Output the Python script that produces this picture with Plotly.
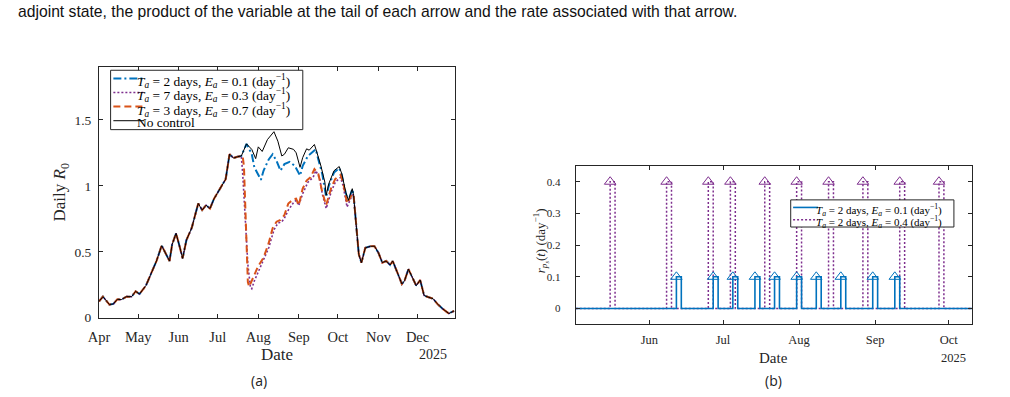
import plotly.graph_objects as go
import pandas as pd

# ---------------- Panel (a): daily R0 ----------------
pre_dates = ['2025-04-01','2025-04-04','2025-04-09','2025-04-12','2025-04-15','2025-04-18','2025-04-22',
             '2025-04-26','2025-04-29','2025-05-02','2025-05-07','2025-05-11','2025-05-15','2025-05-19',
             '2025-05-22','2025-05-25','2025-05-27','2025-05-30','2025-06-02','2025-06-04','2025-06-07',
             '2025-06-11','2025-06-16','2025-06-19','2025-06-22','2025-06-25','2025-06-28','2025-07-03',
             '2025-07-07','2025-07-10','2025-07-13','2025-07-16','2025-07-19']
pre_r0 = [0.124,0.16,0.10,0.105,0.14,0.137,0.16,0.16,0.20,0.18,0.245,0.34,0.43,0.547,0.49,0.43,0.555,
          0.64,0.53,0.45,0.59,0.68,0.866,0.816,0.853,0.828,0.90,0.98,1.05,1.24,1.21,1.22,1.226]

black_mid_dates = ['2025-07-23','2025-07-27','2025-07-30','2025-08-01','2025-08-04','2025-08-08','2025-08-13',
                   '2025-08-16','2025-08-19','2025-08-21','2025-08-24','2025-08-28','2025-08-30','2025-09-02',
                   '2025-09-04','2025-09-07','2025-09-09','2025-09-13','2025-09-15','2025-09-18','2025-09-21',
                   '2025-09-22','2025-09-24','2025-09-28','2025-10-02','2025-10-04','2025-10-07','2025-10-09',
                   '2025-10-12']
black_mid = [1.318,1.276,1.206,1.295,1.26,1.35,1.41,1.338,1.226,1.239,1.288,1.276,1.25,1.14,1.213,1.28,1.27,
             1.313,1.25,1.15,1.027,0.928,1.015,1.114,1.146,1.09,0.952,0.89,0.978]

blue_mid_dates = ['2025-07-23','2025-07-27','2025-07-29','2025-08-03','2025-08-05','2025-08-09','2025-08-12',
                  '2025-08-15','2025-08-18','2025-08-21','2025-08-25','2025-08-29','2025-09-02','2025-09-04',
                  '2025-09-08','2025-09-11','2025-09-14','2025-09-16','2025-09-19','2025-09-22','2025-09-24',
                  '2025-09-28','2025-10-02','2025-10-04','2025-10-07','2025-10-09','2025-10-12']
blue_mid = [1.318,1.24,1.14,1.045,1.114,1.20,1.239,1.189,1.114,1.164,1.181,1.151,1.077,1.151,1.226,1.25,1.276,
            1.2,1.09,0.915,1.0,1.10,1.135,1.08,0.945,0.885,0.975]

purple_mid_dates = ['2025-07-20','2025-07-22','2025-07-24','2025-07-26','2025-07-27','2025-07-29','2025-08-02',
                    '2025-08-05','2025-08-09','2025-08-13','2025-08-16','2025-08-19','2025-08-21','2025-08-24',
                    '2025-08-28','2025-08-30','2025-09-01','2025-09-04','2025-09-08','2025-09-12','2025-09-14',
                    '2025-09-17','2025-09-19','2025-09-22','2025-09-26','2025-09-29','2025-10-03','2025-10-05',
                    '2025-10-08','2025-10-12']
purple_mid = [1.10,0.78,0.405,0.23,0.22,0.28,0.368,0.43,0.53,0.666,0.716,0.728,0.754,0.816,0.873,0.89,0.85,
              0.94,1.027,1.064,1.114,1.06,0.94,0.828,0.96,1.027,1.064,1.0,0.84,0.93]

orange_mid_dates = ['2025-07-20','2025-07-21','2025-07-23','2025-07-24','2025-07-25','2025-07-28','2025-08-01',
                    '2025-08-05','2025-08-09','2025-08-12','2025-08-15','2025-08-18','2025-08-21','2025-08-24',
                    '2025-08-28','2025-08-30','2025-09-01','2025-09-04','2025-09-07','2025-09-10','2025-09-13',
                    '2025-09-16','2025-09-19','2025-09-22','2025-09-26','2025-09-29','2025-10-03','2025-10-05',
                    '2025-10-08','2025-10-12']
orange_mid = [1.226,1.15,0.45,0.27,0.235,0.306,0.393,0.455,0.567,0.679,0.728,0.741,0.778,0.866,0.898,0.903,
              0.853,0.978,1.04,1.064,1.127,1.09,0.952,0.853,0.99,1.052,1.082,1.027,0.866,0.94]

post_dates = ['2025-10-13','2025-10-15','2025-10-17','2025-10-19','2025-10-22','2025-10-26','2025-10-29',
              '2025-11-01','2025-11-04','2025-11-07','2025-11-10','2025-11-12','2025-11-15','2025-11-19',
              '2025-11-21','2025-11-24','2025-11-27','2025-11-30','2025-12-03','2025-12-06','2025-12-09',
              '2025-12-13','2025-12-16','2025-12-20','2025-12-25','2025-12-29']
post_r0 = [0.928,0.704,0.48,0.418,0.53,0.542,0.542,0.493,0.418,0.43,0.40,0.43,0.355,0.256,0.28,0.368,0.306,
           0.243,0.286,0.169,0.157,0.144,0.107,0.07,0.032,0.052]

legend_a = ['<i>T</i><sub><i>a</i></sub> = 2 days, <i>E</i><sub><i>a</i></sub> = 0.1 (day<sup>−1</sup>)',
            '<i>T</i><sub><i>a</i></sub> = 7 days, <i>E</i><sub><i>a</i></sub> = 0.3 (day<sup>−1</sup>)',
            '<i>T</i><sub><i>a</i></sub> = 3 days, <i>E</i><sub><i>a</i></sub> = 0.7 (day<sup>−1</sup>)',
            'No control']

# ---------------- Panel (b): control pulses ----------------
pulse_days = 2
blue_pulse_starts = ['2025-06-12','2025-06-27','2025-07-05','2025-07-14','2025-07-22','2025-07-31',
                     '2025-08-08','2025-08-18','2025-08-31','2025-09-09']
blue_amp = 0.1
purple_pulse_starts = ['2025-05-16','2025-06-08','2025-06-25','2025-07-04','2025-07-18','2025-07-31',
                       '2025-08-13','2025-08-27','2025-09-11','2025-09-27']
purple_amp = 0.4
legend_b = ['<i>T</i><sub><i>a</i></sub> = 2 days, <i>E</i><sub><i>a</i></sub> = 0.1 (day<sup>−1</sup>)',
            '<i>T</i><sub><i>a</i></sub> = 2 days, <i>E</i><sub><i>a</i></sub> = 0.4 (day<sup>−1</sup>)']
b_start, b_end = '2025-05-02', '2025-10-10 12:00'

BLUE, ORANGE, PURPLE, BLACK = '#0072BD', '#D95319', '#7E2F8E', '#000000'
AX = '#262626'
SERIF = 'Liberation Serif'
W, H = 1010, 397


def px(x):
    return x / W


def py(y):
    return 1 - y / H


def pulses(starts, amp):
    xs = [pd.Timestamp(b_start)]
    ys = [0]
    for s in starts:
        t0 = pd.Timestamp(s)
        t1 = t0 + pd.Timedelta(days=pulse_days)
        xs += [t0, t0, t1, t1]
        ys += [0, amp, amp, 0]
    xs.append(pd.Timestamp(b_end))
    ys.append(0)
    return xs, ys


fig = go.Figure()

series = [
    (pre_dates + blue_mid_dates + post_dates, pre_r0 + blue_mid + post_r0, BLUE, '8px,3px,2px,3px', 2.0),
    (pre_dates + purple_mid_dates + post_dates, pre_r0 + purple_mid + post_r0, PURPLE, '2px,2px', 1.6),
    (pre_dates + orange_mid_dates + post_dates, pre_r0 + orange_mid + post_r0, ORANGE, '7px,4px', 2.0),
    (pre_dates + black_mid_dates + post_dates, pre_r0 + black_mid + post_r0, BLACK, 'solid', 1.0),
]
for (xd, yd, col, dash, w), name in zip(series, legend_a):
    fig.add_trace(go.Scatter(x=xd, y=yd, mode='lines', name=name,
                             line=dict(color=col, dash=dash, width=w), xaxis='x', yaxis='y'))

# panel b
pxs, pys = pulses(purple_pulse_starts, purple_amp)
fig.add_trace(go.Scatter(x=pxs, y=pys, mode='lines', line=dict(color=PURPLE, dash='2px,2px', width=1.5),
                         xaxis='x2', yaxis='y2', name=legend_b[1]))
bxs, bys = pulses(blue_pulse_starts, blue_amp)
fig.add_trace(go.Scatter(x=bxs, y=bys, mode='lines', line=dict(color=BLUE, width=1.6),
                         xaxis='x2', yaxis='y2', name=legend_b[0]))
fig.add_trace(go.Scatter(x=purple_pulse_starts, y=[purple_amp] * len(purple_pulse_starts), mode='markers',
                         marker=dict(symbol='triangle-up-open', size=10, color=PURPLE, line=dict(width=1)),
                         xaxis='x2', yaxis='y2', showlegend=False))
fig.add_trace(go.Scatter(x=blue_pulse_starts, y=[blue_amp] * len(blue_pulse_starts), mode='markers',
                         marker=dict(symbol='triangle-up-open', size=10, color=BLUE, line=dict(width=1)),
                         xaxis='x2', yaxis='y2', showlegend=False))

axis_common = dict(showline=True, linecolor=AX, linewidth=1, mirror='ticks', ticks='inside', ticklen=4,
                   tickcolor=AX, showgrid=False, zeroline=False)

fig.update_layout(
    width=W, height=H, margin=dict(l=0, r=0, t=0, b=0),
    paper_bgcolor='white', plot_bgcolor='white', showlegend=False,
    xaxis=dict(domain=[px(89), px(449.3)], type='date', range=['2025-04-01', '2025-12-30'],
               dtick='M1', tick0='2025-04-01', tickformat='%b', ticklabelstandoff=6,
               tickfont=dict(family=SERIF, size=14.5, color=AX), anchor='y', **axis_common),
    yaxis=dict(domain=[py(324.3), py(68.4)], range=[0, 1.9], dtick=0.5, ticklabelstandoff=4,
               tickfont=dict(family=SERIF, size=13.5, color=AX), anchor='x', **axis_common),
    xaxis2=dict(domain=[px(571), px(971.7)], type='date', range=[b_start, b_end],
                dtick='M1', tick0='2025-06-01', tickformat='%b', ticklabelstandoff=4,
                tickfont=dict(family=SERIF, size=12.5, color=AX), anchor='y2', **axis_common),
    yaxis2=dict(domain=[py(331), py(169.3)], range=[-0.05, 0.45], dtick=0.1, ticklabelstandoff=12,
                tickfont=dict(family=SERIF, size=11, color=AX), anchor='x2', **axis_common),
)

ann = []
shapes = []


def text(x, y, s, size, family=SERIF, xanchor='center', angle=0, color=AX):
    ann.append(dict(x=px(x), y=py(y), xref='paper', yref='paper', text=s, showarrow=False,
                    xanchor=xanchor, yanchor='middle', textangle=angle,
                    font=dict(family=family, size=size, color=color)))


# top caption line
text(5, 12, 'adjoint state, the product of the variable at the tail of each arrow and the rate associated with that arrow.',
     15.7, family='Liberation Sans', xanchor='left', color='#111111')

# axis titles / labels
text(269, 362, 'Date', 17)
text(427, 362, '2025', 14)
text(51, 196, 'Daily <i>R</i><sub>0</sub>', 17, angle=-90)
text(771, 365, 'Date', 15)
text(953, 365, '2025', 12.5)
text(535, 246, '<i>r</i><sub><i>p<sub>s</sub></i></sub>(<i>t</i>) (day<sup>−1</sup>)', 13, angle=-90)
text(251, 388, '(a)', 14, family='Open Sans', color='#222222')
text(771, 388, '(b)', 14, family='Open Sans', color='#222222')

# legend (a)
shapes.append(dict(type='rect', xref='paper', yref='paper', x0=px(100.7), x1=px(295), y0=py(132.3), y1=py(71.7),
                   line=dict(color=AX, width=1), fillcolor='white', layer='above'))
legend_a_dy = [3, 3, 3, 1.8]
for i, (lab, (_, _, col, dash, w)) in enumerate(zip(legend_a, series)):
    yy = 80 + i * 14.4
    shapes.append(dict(type='line', xref='paper', yref='paper', x0=px(103.5), x1=px(134.5), y0=py(yy), y1=py(yy),
                       line=dict(color=col, dash=dash, width=w), layer='above'))
    text(125, yy + legend_a_dy[i], lab, 13.4, xanchor='left', color='#000000')

# legend (b)
shapes.append(dict(type='rect', xref='paper', yref='paper', x0=px(788.3), x1=px(953.3), y0=py(231.7), y1=py(204),
                   line=dict(color=AX, width=1), fillcolor='white', layer='above'))
for i, (lab, col, dash, w) in enumerate(zip(legend_b, [BLUE, PURPLE], ['solid', '2px,2px'], [1.6, 1.5])):
    yy = 211.7 + i * 12.6
    shapes.append(dict(type='line', xref='paper', yref='paper', x0=px(790.7), x1=px(816), y0=py(yy), y1=py(yy),
                       line=dict(color=col, dash=dash, width=w), layer='above'))
    text(812, yy + 2.5, lab, 11, xanchor='left', color='#000000')

fig.update_layout(annotations=ann, shapes=shapes)
fig.write_html('out.html')
